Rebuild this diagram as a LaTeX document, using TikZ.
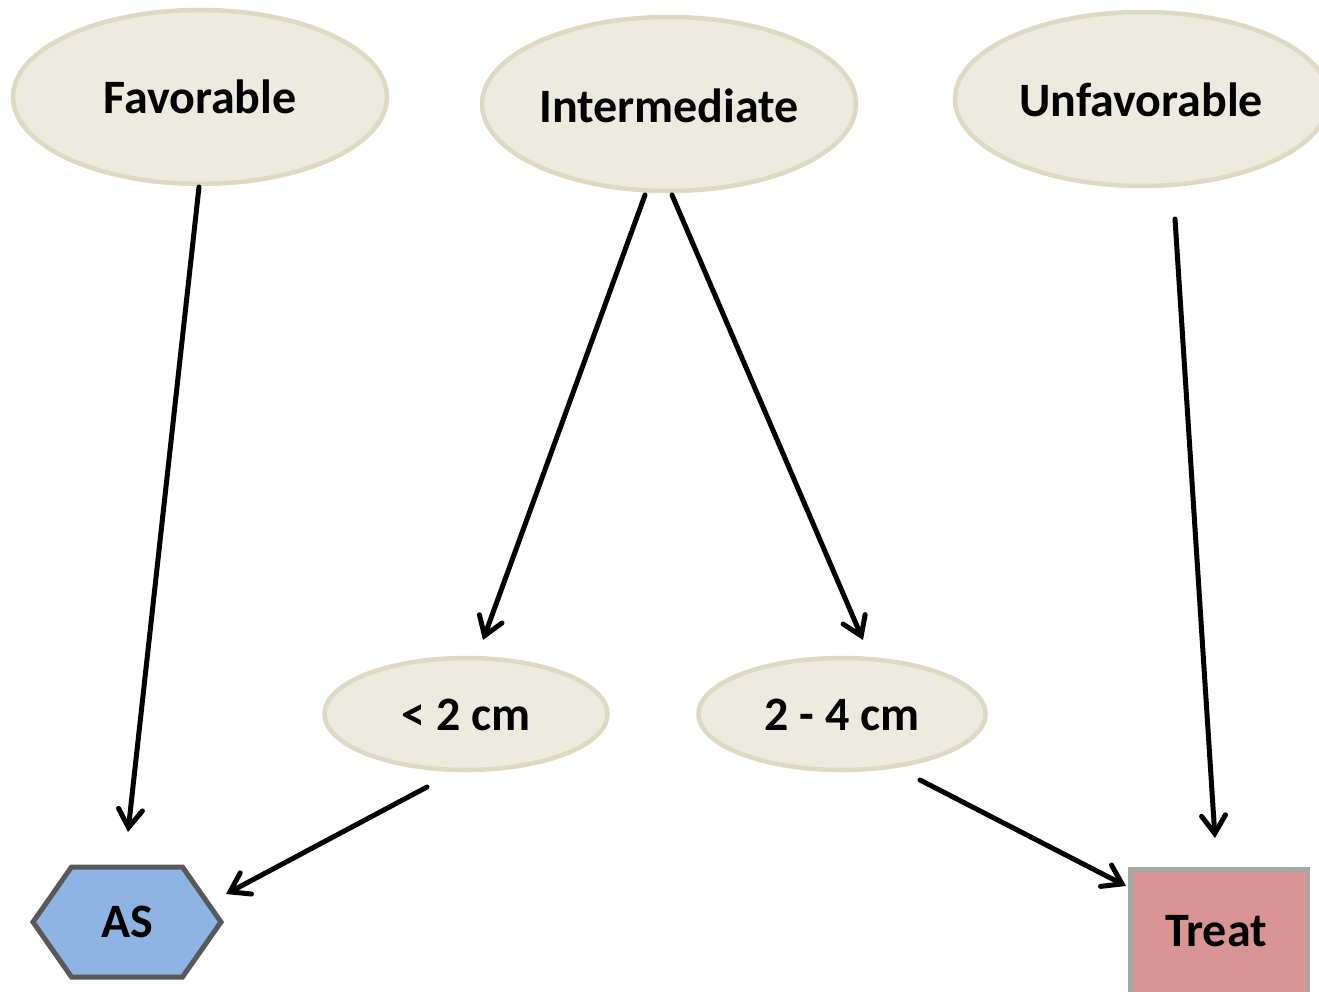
\documentclass[tikz,border=0pt]{standalone}
\usepackage{fontspec}
\setmainfont{Carlito}
\usetikzlibrary{shapes.geometric,shapes.symbols,arrows.meta}
\definecolor{ellfill}{HTML}{EDEBE0}
\definecolor{elldraw}{HTML}{DDD9C3}
\definecolor{asfill}{HTML}{8EB4E3}
\definecolor{asdraw}{HTML}{595959}
\definecolor{trfill}{HTML}{D99594}
\definecolor{trdraw}{HTML}{A6A6A6}
\tikzset{
  lbl/.style={font=\fontsize{48}{58}\selectfont\bfseries},
  bigell/.style={ellipse, fill=ellfill, draw=elldraw, line width=4.5pt, minimum width=374pt, minimum height=174pt, inner sep=0pt},
  smallell/.style={ellipse, fill=ellfill, draw=elldraw, line width=4.5pt, minimum width=283pt, minimum height=112pt, inner sep=0pt},
  conn/.style={line width=5pt, -{Straight Barb[length=18pt,width=24pt,line width=5pt,line cap=round]}, line cap=round},
}
\begin{document}
\begin{tikzpicture}[x=1pt,y=-1pt]
\useasboundingbox (0,0) rectangle (1319,992);
\clip (0,0) rectangle (1319,992);
\node[bigell] (fav) at (200,97) {};
\node[lbl] at (200,97) {Favorable};
\node[bigell] (int) at (669,104) {};
\node[lbl] at (669,106) {Intermediate};
\node[bigell] (unf) at (1142,99) {};
\node[lbl] at (1141,100) {Unfavorable};
\node[smallell] (lt) at (466,714) {};
\node[lbl] at (466,715) {< 2 cm};
\node[smallell, minimum width=287pt] (mid) at (842,714) {};
\node[lbl] at (842,715) {2 - 4 cm};
\node[signal, signal to=west and east, signal pointer angle=110, fill=asfill, draw=asdraw, line width=5pt, minimum width=188pt, minimum height=110pt, inner sep=0pt] (as) at (127,922) {};
\node[lbl] at (127,922) {AS};
\node[rectangle, fill=trfill, draw=trdraw, line width=5pt, minimum width=177pt, minimum height=136pt, inner sep=0pt, anchor=north west] (treat) at (1128,867) {};
\node[lbl] at (1216,931) {Treat};
\coordinate (f1) at (199,187);
\coordinate (f2) at (128,832);
\coordinate (i1) at (645,195);
\coordinate (i2) at (483,640);
\coordinate (i3) at (672,195);
\coordinate (i4) at (863,640);
\coordinate (u1) at (1175,219);
\coordinate (u2) at (1215,838);
\coordinate (l1) at (427,787);
\coordinate (l2) at (226,894);
\coordinate (m1) at (920,780);
\coordinate (m2) at (1126,886);
\draw[conn] (f1) -- (f2);
\draw[conn] (i1) -- (i2);
\draw[conn] (i3) -- (i4);
\draw[conn] (u1) -- (u2);
\draw[conn] (l1) -- (l2);
\draw[conn] (m1) -- (m2);
\end{tikzpicture}
\end{document}
